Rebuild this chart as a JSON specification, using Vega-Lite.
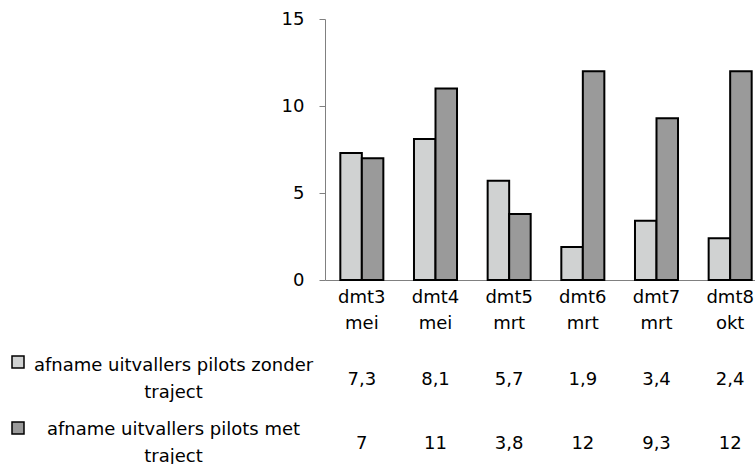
{
  "$schema": "https://vega.github.io/schema/vega-lite/v6.json",
  "padding": {"left": 11, "top": 10, "right": 0, "bottom": 0},
  "config": {
    "locale": {"number": {"decimal": ",", "thousands": ".", "grouping": [3], "currency": ["€", ""]}},
    "view": {"stroke": null},
    "font": "DejaVu Sans",
    "concat": {"spacing": 16}
  },
  "data": {
    "values": [
      {"cat": "dmt3 mei", "series": "afname uitvallers pilots zonder traject", "value": 7.3},
      {"cat": "dmt4 mei", "series": "afname uitvallers pilots zonder traject", "value": 8.1},
      {"cat": "dmt5 mrt", "series": "afname uitvallers pilots zonder traject", "value": 5.7},
      {"cat": "dmt6 mrt", "series": "afname uitvallers pilots zonder traject", "value": 1.9},
      {"cat": "dmt7 mrt", "series": "afname uitvallers pilots zonder traject", "value": 3.4},
      {"cat": "dmt8 okt", "series": "afname uitvallers pilots zonder traject", "value": 2.4},
      {"cat": "dmt3 mei", "series": "afname uitvallers pilots met traject", "value": 7},
      {"cat": "dmt4 mei", "series": "afname uitvallers pilots met traject", "value": 11},
      {"cat": "dmt5 mrt", "series": "afname uitvallers pilots met traject", "value": 3.8},
      {"cat": "dmt6 mrt", "series": "afname uitvallers pilots met traject", "value": 12},
      {"cat": "dmt7 mrt", "series": "afname uitvallers pilots met traject", "value": 9.3},
      {"cat": "dmt8 okt", "series": "afname uitvallers pilots met traject", "value": 12}
    ]
  },
  "vconcat": [
    {
      "width": 442,
      "height": 261,
      "mark": {"type": "bar", "stroke": "black", "strokeWidth": 2},
      "encoding": {
        "x": {
          "field": "cat", "type": "nominal", "sort": null,
          "scale": {"paddingInner": 0.416, "paddingOuter": 0.208},
          "axis": {"title": null, "labelAngle": 0, "labelExpr": "split(datum.value, ' ')", "labelFontSize": 18, "labelLineHeight": 26, "ticks": false, "domainColor": "#808080", "labelPadding": 8, "labelColor": "black"}
        },
        "xOffset": {"field": "series", "sort": ["afname uitvallers pilots zonder traject", "afname uitvallers pilots met traject"], "scale": {"paddingInner": 0}},
        "y": {
          "field": "value", "type": "quantitative",
          "scale": {"domain": [0, 15]},
          "axis": {"values": [0, 5, 10, 15], "grid": false, "title": null, "labelFontSize": 18, "tickSize": 6, "tickColor": "#808080", "domainColor": "#808080", "labelPadding": 15, "labelColor": "black"}
        },
        "color": {
          "field": "series", "type": "nominal",
          "scale": {"domain": ["afname uitvallers pilots zonder traject", "afname uitvallers pilots met traject"], "range": ["#d0d2d2", "#9a9a9a"]},
          "legend": {"orient": "none", "legendX": -314, "legendY": 336, "title": null, "symbolType": "square", "symbolSize": 144, "symbolStrokeColor": "black", "symbolStrokeWidth": 1.5, "labelExpr": "''", "labelFontSize": 1, "labelOffset": 0, "rowPadding": 48, "padding": 0, "symbolOffset": 0}
        }
      }
    },
    {
      "width": 442,
      "height": 128,
      "mark": {"type": "text", "fontSize": 18, "color": "black"},
      "encoding": {
        "x": {"field": "cat", "type": "nominal", "sort": null, "scale": {"paddingInner": 0.416, "paddingOuter": 0.208}, "axis": null},
        "y": {
          "field": "series", "type": "nominal",
          "sort": ["afname uitvallers pilots zonder traject", "afname uitvallers pilots met traject"],
          "scale": {"type": "point", "padding": 0.5},
          "axis": {"title": null, "domain": false, "ticks": false, "labelAlign": "center", "labelBaseline": "middle", "labelOffset": -14.5, "labelPadding": 152, "labelFontSize": 18, "labelLineHeight": 27, "labelLimit": 0, "labelColor": "black", "labelExpr": "[slice(datum.value, 0, lastindexof(datum.value, ' ')), slice(datum.value, lastindexof(datum.value, ' ') + 1)]"}
        },
        "text": {"field": "value", "type": "quantitative"}
      }
    }
  ]
}
